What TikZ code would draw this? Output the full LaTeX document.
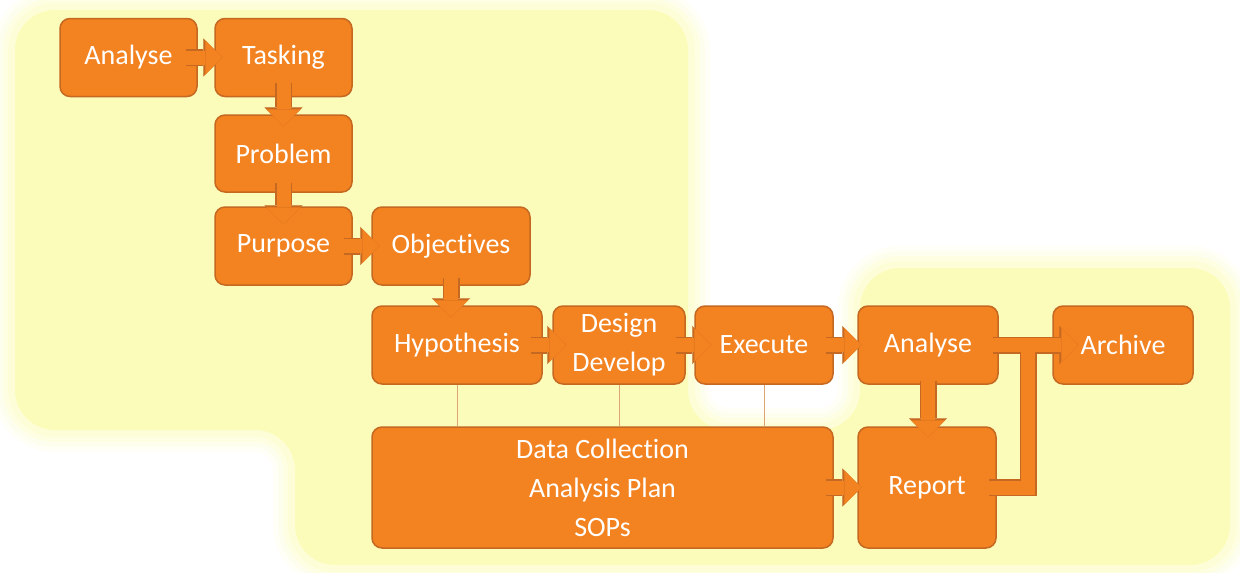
\documentclass[tikz,border=0pt]{standalone}
\usepackage{fontspec}
\setmainfont{Carlito}[Ligatures=NoCommon]
\usetikzlibrary{arrows.meta}
\definecolor{boxfill}{RGB}{243,130,32}
\definecolor{boxedge}{RGB}{196,104,34}
\definecolor{glow}{RGB}{252,252,186}
\definecolor{tieline}{RGB}{222,165,115}

\begin{document}
\begin{tikzpicture}[x=1pt, y=-1pt,
    stepbox/.style={draw=boxedge, fill=boxfill, line width=1.5pt, rounded corners=10pt,
        minimum width=137pt, minimum height=78pt, inner sep=0pt, align=center,
        text=white, font=\fontsize{28}{39}\selectfont},
    flow/.style={boxfill, line width=14pt, -{Triangle[width=34pt,length=17pt,line width=0.1pt]},
        preaction={draw=boxedge, line width=17pt, -{Triangle[width=38pt,length=19pt,line width=0.1pt]}}},
    tie/.style={tieline, line width=1pt}]
    \useasboundingbox (0,0) rectangle (1240,573);

    % Glow background
    \foreach \w/\o in {44/0.12, 34/0.15, 24/0.2, 14/0.3}
        \draw[glow, line width=\w pt, opacity=\o, rounded corners=40pt]
            (15,10) -- (688,10) -- (688,430) -- (860,430) -- (860,268) -- (1230,268)
            -- (1230,565) -- (295,565) -- (295,430) -- (15,430) -- cycle;
    \fill[glow, rounded corners=40pt]
        (15,10) -- (688,10) -- (688,430) -- (860,430) -- (860,268) -- (1230,268)
        -- (1230,565) -- (295,565) -- (295,430) -- (15,430) -- cycle;

    % Steps
    \node[stepbox] (ana1) at (128.5,57.5) {Analyse};
    \node[stepbox] (task) at (283.5,57.5) {Tasking};
    \node[stepbox, minimum height=77pt] (prob) at (283.5,153.5) {Problem};
    \node[stepbox] (purp) at (283.5,246) {Purpose};
    \node[stepbox, minimum width=158pt] (obj) at (451,246) {Objectives};
    \node[stepbox, minimum width=170pt] (hyp) at (457,345) {Hypothesis};
    \node[stepbox, minimum width=132pt] (des) at (619,345) {Design\\Develop};
    \node[stepbox, minimum width=138pt] (exe) at (764,345) {Execute};
    \node[stepbox, minimum width=140pt] (ana2) at (928,345) {Analyse};
    \node[stepbox, minimum width=140pt] (arch) at (1123,345) {Archive};
    \node[stepbox, minimum width=461pt, minimum height=121pt] (data) at (602.5,487.5)
        {Data Collection\\Analysis Plan\\SOPs};
    \node[stepbox, minimum width=138pt, minimum height=121pt] (rep) at (927,487.5) {Report};

    % Links to the plan
    \foreach \n in {hyp,des,exe}
        \draw[tie] (\n.south) -- (\n.south |- data.north);

    % Arrows
    \draw[flow] ([xshift=-12pt]ana1.east) -- ([xshift=8pt]task.west);
    \draw[flow] ([yshift=14pt]task.south) -- ([yshift=-12pt]prob.north);
    \draw[flow] ([yshift=10pt]prob.south) -- ([yshift=-18pt]purp.north);
    \draw[flow] ([xshift=-9pt]purp.east) -- ([xshift=8pt]obj.west);
    \draw[flow] ([yshift=8pt]obj.south) -- ([yshift=-12pt]obj.south |- hyp.north);
    \draw[flow] ([xshift=-12pt]hyp.east) -- ([xshift=14pt]des.west);
    \draw[flow] ([xshift=-10pt]des.east) -- ([xshift=17pt]exe.west);
    \draw[flow] ([xshift=-8pt]exe.east) -- ([xshift=4pt]ana2.west);
    \draw[flow] ([yshift=4pt]ana2.south) -- ([yshift=-11pt]ana2.south |- rep.north);
    \draw[flow] ([xshift=-8pt]data.east) -- ([xshift=4pt]rep.west);
    \coordinate (jn) at (1028,345);
    \draw[flow] ([xshift=-8pt]rep.east) -| (jn)
        ([xshift=-6pt]ana2.east) -- ([xshift=26pt]arch.west);
\end{tikzpicture}
\end{document}
